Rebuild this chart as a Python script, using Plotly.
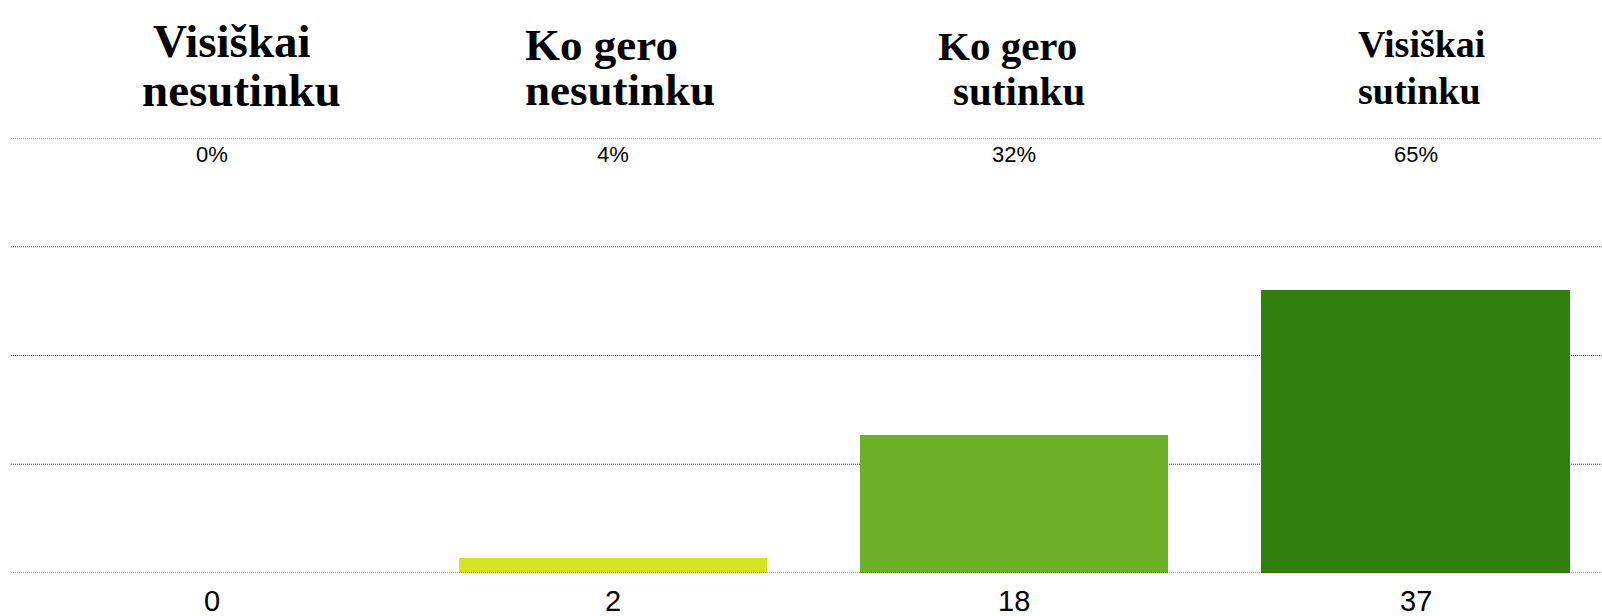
import plotly.graph_objects as go

# ---- data ----
categories = ["Visiškai nesutinku", "Ko gero nesutinku", "Ko gero sutinku", "Visiškai sutinku"]
header_line1 = ["Visiškai", "Ko gero", "Ko gero", "Visiškai"]
header_line2 = ["nesutinku", "nesutinku", "sutinku", "sutinku"]
counts = [0, 2, 18, 37]
percent_labels = ["0%", "4%", "32%", "65%"]
bar_colors = ["#d2e41e", "#d2e41e", "#6ab128", "#317f0e"]

# ---- layout geometry (pixels, in page coordinates) ----
W, H = 1602, 616
PLOT_LEFT, PLOT_TOP, PLOT_BOTTOM = 11, 138, 573
L, T = PLOT_LEFT, PLOT_TOP
B = H - PLOT_BOTTOM
R = 0
PW, PH = W - L - R, H - T - B
YMAX = 56.9
XMAX = -0.5 + PW / 401.3

header_sizes = [47, 45, 41, 38]
line1_left = [152, 524, 937, 1357]
line2_left = [141, 524, 952, 1357]
line1_base = [57, 60, 60, 57]
line2_base = [106, 105, 105, 104]

SERIF = "Liberation Serif, Times New Roman, serif"
SANS = "Liberation Sans, Arial, sans-serif"
PCT_SIZE, CNT_SIZE = 22, 29
PCT_BASE, CNT_BASE = 162, 611


def px_x(px):
    return (px - L) / PW


def px_y(py):
    return (H - B - py) / PH


fig = go.Figure()
fig.add_trace(go.Bar(
    x=categories, y=counts,
    marker=dict(color=bar_colors, line=dict(width=0)),
    width=0.768,
    hoverinfo="x+y",
))

annotations = []
for i in range(len(categories)):
    s = header_sizes[i]
    for txt, left, base in ((header_line1[i], line1_left[i], line1_base[i]),
                            (header_line2[i], line2_left[i], line2_base[i])):
        annotations.append(dict(
            text=txt, xref="paper", yref="paper",
            x=px_x(left), y=px_y(base - 0.3375 * s),
            xanchor="left", yanchor="middle", showarrow=False,
            font=dict(family=SERIF, size=s, color="#000000", weight="bold"),
            borderpad=0,
        ))
    annotations.append(dict(
        text=percent_labels[i], xref="x", yref="paper",
        x=categories[i], y=px_y(PCT_BASE - 0.3465 * PCT_SIZE),
        xanchor="center", yanchor="middle", showarrow=False,
        font=dict(family=SANS, size=PCT_SIZE, color="#000000"),
        borderpad=0,
    ))
    annotations.append(dict(
        text=str(counts[i]), xref="x", yref="paper",
        x=categories[i], y=px_y(CNT_BASE - 0.3465 * CNT_SIZE),
        xanchor="center", yanchor="middle", showarrow=False,
        font=dict(family=SANS, size=CNT_SIZE, color="#000000"),
        borderpad=0,
    ))

shapes = []
for k in range(5):
    shapes.append(dict(
        type="line", xref="paper", yref="y",
        x0=0, x1=1, y0=YMAX * k / 4, y1=YMAX * k / 4,
        line=dict(color="#3a3a3a", width=1, dash="1px,1px"),
        layer="above" if k == 0 else "below",
    ))

fig.update_layout(
    width=W, height=H,
    margin=dict(l=L, r=R, t=T, b=B, pad=0),
    paper_bgcolor="#ffffff", plot_bgcolor="#ffffff",
    showlegend=False,
    xaxis=dict(range=[-0.5, XMAX], showticklabels=False, showgrid=False,
               zeroline=False, showline=False, ticks=""),
    yaxis=dict(range=[0, YMAX], showticklabels=False, showgrid=False,
               zeroline=False, showline=False, ticks=""),
    annotations=annotations,
    shapes=shapes,
    bargap=0,
)

fig.write_html(
    "out.html",
    config={"displayModeBar": False},
    post_script="document.body.style.margin='0';document.body.style.overflow='hidden';",
)
